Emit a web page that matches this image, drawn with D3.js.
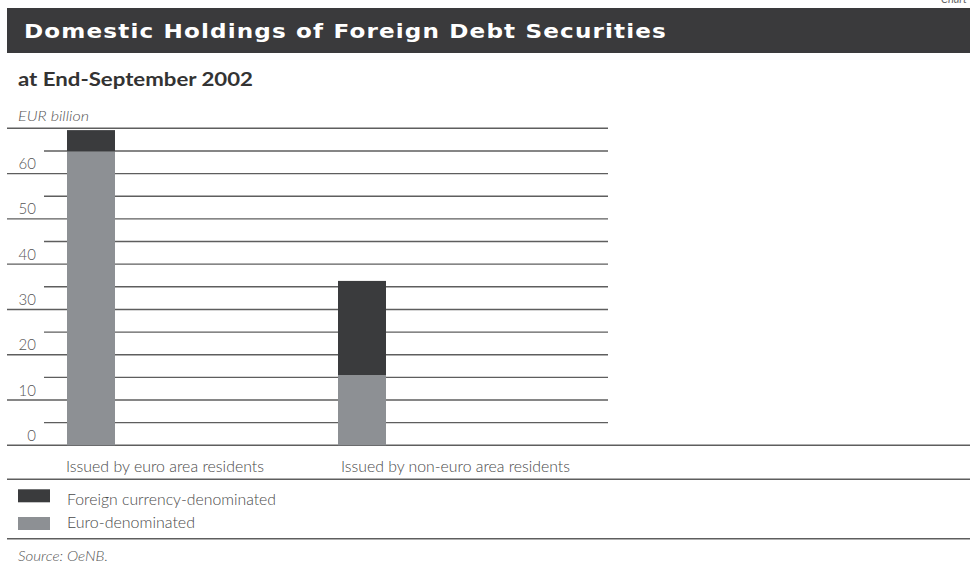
<!DOCTYPE html>
<html>
<head>
<meta charset="utf-8">
<script src="https://cdn.jsdelivr.net/npm/d3@7"></script>
<style>
  html, body { margin: 0; padding: 0; background: #fff; }
  svg { display: block; }
</style>
</head>
<body>
<svg id="chart" width="970" height="565"></svg>
<script>
// Domestic holdings of foreign debt securities, EUR billion, end-September 2002
const categories = ["Issued by euro area residents", "Issued by non-euro area residents"];
const euroDenominated = [64.9, 15.5];
const foreignCurrency = [4.7, 20.8];
const seriesNames = ["Foreign currency-denominated", "Euro-denominated"];
const tickLabels = [0, 10, 20, 30, 40, 50, 60];
const gridValues = [0, 5, 10, 15, 20, 25, 30, 35, 40, 45, 50, 55, 60, 65, 70];

const colors = { "Foreign currency-denominated": "#3a3b3d", "Euro-denominated": "#8d9094" };
const ink = "#4a4a4a";
const lineColor = "#5e5e5e";
const lightFont = "Lato, 'Open Sans', 'Liberation Sans', sans-serif";

const svg = d3.select("#chart");

// header band
svg.append("text")
  .attr("x", 967).attr("y", 2.5)
  .attr("text-anchor", "end")
  .attr("font-family", lightFont).attr("font-style", "italic")
  .attr("font-size", 11).attr("fill", "#666")
  .text("Chart");

svg.append("rect")
  .attr("x", 7).attr("y", 8).attr("width", 963).attr("height", 45)
  .attr("fill", "#3a3a3c");

svg.append("text")
  .attr("x", 24).attr("y", 38)
  .attr("font-family", "'DejaVu Sans', sans-serif").attr("font-weight", "bold")
  .attr("font-size", 20).attr("fill", "#fff")
  .attr("letter-spacing", 1)
  .attr("textLength", 643).attr("lengthAdjust", "spacingAndGlyphs")
  .text("Domestic Holdings of Foreign Debt Securities");

svg.append("text")
  .attr("x", 18).attr("y", 86)
  .attr("font-family", "Lato, 'Liberation Sans', sans-serif").attr("font-weight", "bold")
  .attr("font-size", 19).attr("fill", "#333")
  .attr("textLength", 235).attr("lengthAdjust", "spacingAndGlyphs")
  .text("at End-September 2002");

svg.append("text")
  .attr("x", 18).attr("y", 120.5)
  .attr("font-family", lightFont).attr("font-style", "italic").attr("font-weight", 300)
  .attr("font-size", 13).attr("fill", "#555")
  .attr("textLength", 71).attr("lengthAdjust", "spacingAndGlyphs")
  .text("EUR billion");

// scales
const y = d3.scaleLinear().domain([0, 70]).range([445.3, 128.3]);
const x = d3.scaleBand().domain(categories).range([67, 386])
  .paddingInner(1 - 48 / 271).paddingOuter(0);

// horizontal rules: every 10 runs to the left edge, the 5s start after the labels
const grid = svg.append("g");
grid.selectAll("line").data(gridValues).join("line")
  .attr("x1", d => d % 10 === 0 ? 7 : 44)
  .attr("x2", d => d === 0 ? 970 : 608)
  .attr("y1", d => y(d)).attr("y2", d => y(d))
  .attr("stroke", lineColor).attr("stroke-width", 1.4);

// y tick labels sit just above their rule
const yAxis = d3.axisLeft(y).tickValues(tickLabels).tickSize(0).tickPadding(0);
const yg = svg.append("g").attr("transform", "translate(36,-5)").call(yAxis);
yg.select(".domain").remove();
yg.selectAll("text")
  .attr("font-family", lightFont).attr("font-weight", 300)
  .attr("font-size", 15).attr("fill", "#555")
  .attr("dy", 0);

// stacked bars
const rows = categories.map((c, i) => ({
  category: c,
  "Euro-denominated": euroDenominated[i],
  "Foreign currency-denominated": foreignCurrency[i]
}));
const stacked = d3.stack().keys(["Euro-denominated", "Foreign currency-denominated"])(rows);

svg.append("g").selectAll("g").data(stacked).join("g")
  .attr("fill", s => colors[s.key])
  .selectAll("rect").data(s => s).join("rect")
  .attr("x", d => x(d.data.category))
  .attr("width", x.bandwidth())
  .attr("y", d => y(d[1]))
  .attr("height", d => y(d[0]) - y(d[1]));

// category labels
const labelWidths = [198, 229];
svg.append("g").selectAll("text").data(categories).join("text")
  .attr("x", (d, i) => x(d) + (i === 0 ? -1 : 3))
  .attr("y", 471.5)
  .attr("font-family", lightFont).attr("font-weight", 300)
  .attr("font-size", 15).attr("fill", ink)
  .attr("textLength", (d, i) => labelWidths[i]).attr("lengthAdjust", "spacingAndGlyphs")
  .text(d => d);

// separators
[479.3, 538.8].forEach(v => {
  svg.append("line")
    .attr("x1", 7).attr("x2", 970).attr("y1", v).attr("y2", v)
    .attr("stroke", lineColor).attr("stroke-width", 1.4);
});

// legend
const legendRows = [
  { name: seriesNames[0], y: 489.3, text: 505, w: 209 },
  { name: seriesNames[1], y: 517, text: 527.5, w: 128 }
];
const lg = svg.append("g");
lg.selectAll("rect").data(legendRows).join("rect")
  .attr("x", 18).attr("y", d => d.y).attr("width", 32).attr("height", 13)
  .attr("fill", d => colors[d.name]);
lg.selectAll("text").data(legendRows).join("text")
  .attr("x", 67).attr("y", d => d.text)
  .attr("font-family", lightFont).attr("font-weight", 300)
  .attr("font-size", 15).attr("fill", ink)
  .attr("textLength", d => d.w).attr("lengthAdjust", "spacingAndGlyphs")
  .text(d => d.name);

svg.append("text")
  .attr("x", 18).attr("y", 561)
  .attr("font-family", lightFont).attr("font-style", "italic").attr("font-weight", 300)
  .attr("font-size", 13).attr("fill", "#555")
  .attr("textLength", 90).attr("lengthAdjust", "spacingAndGlyphs")
  .text("Source: OeNB.");
</script>
</body>
</html>
